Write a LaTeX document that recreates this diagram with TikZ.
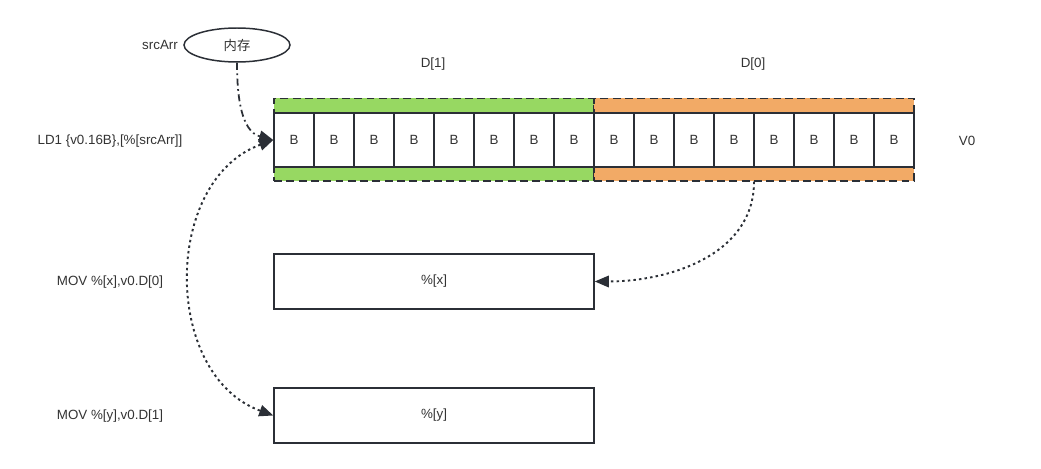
\documentclass[tikz,border=0pt]{standalone}
\usepackage{fontspec}
\setmainfont{Liberation Sans}
\newfontfamily\cjkfont{Noto Sans CJK SC}
\usetikzlibrary{shapes.geometric,arrows.meta,positioning}
\definecolor{linegray}{HTML}{2B2F36}
\definecolor{textgray}{HTML}{333333}
\definecolor{dgreen}{HTML}{97D862}
\definecolor{dorange}{HTML}{F2AA66}
\begin{document}
\begin{tikzpicture}[
    x=0.02cm, y=-0.02cm,
    line width=0.85pt,
    every node/.style={font=\fontsize{7.6}{9}\selectfont, text=textgray},
    cell/.style={rectangle, draw=linegray, minimum width=0.8cm, minimum height=1.08cm, inner sep=0pt},
    bar/.style={rectangle, draw=linegray, dash pattern=on 4.5pt off 2.5pt, minimum width=6.4cm, minimum height=0.28cm, inner sep=0pt},
    reg/.style={rectangle, draw=linegray, minimum width=6.4cm, minimum height=1.1cm, inner sep=0pt},
    mem/.style={ellipse, draw=linegray, minimum width=2.12cm, minimum height=0.68cm, inner sep=0pt},
    arrow/.style={draw=linegray, -{Triangle[length=8pt,width=6.5pt]}},
    dotline/.style={line width=1.1pt, dash pattern=on 1.4pt off 1.8pt},
    dashdotline/.style={line width=1pt, dash pattern=on 4pt off 2pt on 1pt off 2pt}
]
\useasboundingbox (0,0) rectangle (1041,469);
% Memory
\node[mem] (ell) at (237,45) {\cjkfont 内存};
\node (srcarr) at (160,45) {srcArr};
% Lane labels
\node (dlabel1) at (433,64) {D[1]};
\node (dlabel0) at (753,64) {D[0]};
% Lane bars
\node[bar, fill=dgreen] (d1top) at (434,105.5) {};
\node[bar, fill=dorange] (d0top) at (754,105.5) {};
\node[bar, fill=dgreen] (d1bot) at (434,174) {};
\node[bar, fill=dorange] (d0bot) at (754,174) {};
% Byte cells of v0
\foreach \i in {1,...,16}
  \node[cell, fill=white] (c\i) at ({294+40*(\i-1)},140) {B};
\node (v0) at (967,141) {V0};
% Instructions
\node (ld) at (110,141) {LD1 \{v0.16B\},[\%[srcArr]]};
\node (movx) at (110,282) {MOV \%[x],v0.D[0]};
\node (movy) at (110,416) {MOV \%[y],v0.D[1]};
% Registers
\node[reg] (regx) at (434,281.5) {\%[x]};
\node[reg] (regy) at (434,415.5) {\%[y]};
% Arrows
\draw[arrow, dashdotline] (ell.south) to[out=-90, in=165] (c1.west);
\draw[arrow, dotline] (d0bot.south) to[out=-90, in=0] (regx.east);
\draw[arrow, dotline, {Triangle[length=8pt,width=6.5pt]}-{Triangle[length=8pt,width=6.5pt]}] (c1.west) to[out=200, in=160, looseness=1.1] (regy.west);
\end{tikzpicture}
\end{document}
